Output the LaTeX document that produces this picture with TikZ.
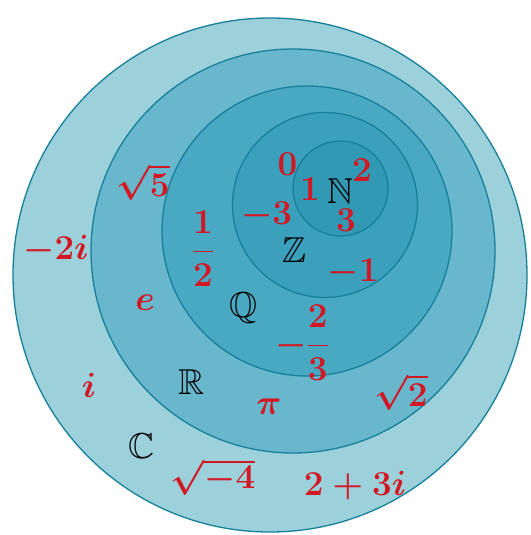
\RequirePackage{fix-cm}
\documentclass[tikz,border=0pt]{standalone}
\usepackage{amsmath,amssymb}
\definecolor{ringC}{RGB}{156,208,219}
\definecolor{ringR}{RGB}{104,183,204}
\definecolor{ringQ}{RGB}{74,169,194}
\definecolor{ringZ}{RGB}{58,160,187}
\definecolor{ringN}{RGB}{50,153,180}
\definecolor{edge}{RGB}{22,128,155}
\definecolor{numred}{RGB}{210,24,34}
\tikzset{
  setdisk/.style={fill=#1, draw=edge, line width=1.3pt},
  elem/.style={text=numred, inner sep=0pt, font=\fontsize{35}{42}\selectfont\boldmath},
  setname/.style={text=black, inner sep=0pt, font=\fontsize{36}{42}\selectfont}
}
\begin{document}
\begin{tikzpicture}[x=1pt,y=-1pt]
\useasboundingbox (0,0) rectangle (530,535);
\fill[white] (0,0) rectangle (530,535);
\path[setdisk=ringC] (270,275) circle[radius=257];
\path[setdisk=ringR] (293,251) circle[radius=202];
\path[setdisk=ringQ] (307,231) circle[radius=145];
\path[setdisk=ringZ] (325,205) circle[radius=92.5];
\path[setdisk=ringN] (340.5,188.5) circle[radius=47.5];
% set names
\node[setname] (N) at (340.5,191) {$\mathbb{N}$};
\node[setname] (Z) at (294,250) {$\mathbb{Z}$};
\node[setname] (Q) at (243,308) {$\mathbb{Q}$};
\node[setname] (R) at (191,382.5) {$\mathbb{R}$};
\node[setname] (C) at (141,446.5) {$\mathbb{C}$};
% elements
\node[elem] (n0) at (287.5,164) {$0$};
\node[elem] (n2) at (362,170) {$2$};
\node[elem] (n1) at (310,189.5) {$1$};
\node[elem] (n3) at (346,220) {$3$};
\node[elem] (m3) at (266.5,216) {$-3$};
\node[elem] (m1) at (353,273) {$-1$};
\node[elem] (half) at (203,249) {$\dfrac{1}{2}$};
\node[elem] (mtt) at (302,343) {$-\dfrac{2}{3}$};
\node[elem] (s5) at (143,182) {$\sqrt{5}$};
\node[elem] (m2i) at (56,250) {$-2i$};
\node[elem] (e) at (145,303) {$e$};
\node[elem] (pi) at (269,407) {$\pi$};
\node[elem] (s2) at (401,392) {$\sqrt{2}$};
\node[elem] (ii) at (89,385) {$i$};
\node[elem] (sm4) at (213,477) {$\sqrt{-4}$};
\node[elem] (z) at (355,486) {$2+3i$};
\end{tikzpicture}
\end{document}
